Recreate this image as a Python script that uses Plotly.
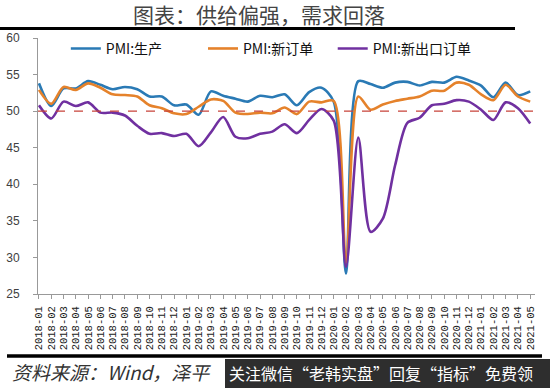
import plotly.graph_objects as go

months = [f"{y}-{m:02d}" for y in (2018, 2019, 2020) for m in range(1, 13)] + [f"2021-{m:02d}" for m in range(1, 6)]

pmi_production = [53.8, 50.7, 53.1, 53.1, 54.1, 53.6, 53.0, 53.3, 53.0, 52.0, 52.0, 50.8,
                  50.9, 49.5, 52.7, 52.1, 51.7, 51.3, 52.1, 51.9, 52.3, 50.8, 52.6, 53.2,
                  51.3, 27.8, 54.1, 53.7, 53.2, 53.9, 54.0, 53.5, 54.0, 53.9, 54.7, 54.2,
                  53.5, 51.9, 53.9, 52.2, 52.7]
pmi_new_orders = [52.9, 51.0, 53.3, 52.9, 53.8, 53.2, 52.3, 52.2, 52.0, 50.8, 50.4, 49.7,
                  49.6, 50.6, 51.6, 51.4, 49.8, 49.6, 49.8, 49.7, 50.5, 49.6, 51.3, 51.2,
                  51.4, 29.3, 52.0, 50.2, 50.9, 51.4, 51.7, 52.0, 52.8, 52.8, 53.9, 53.6,
                  52.3, 51.5, 53.6, 52.0, 51.3]
pmi_new_export = [50.8, 49.0, 51.3, 50.7, 51.2, 49.8, 49.8, 49.4, 48.0, 46.9, 47.0, 46.6,
                  46.9, 45.2, 47.1, 49.2, 46.5, 46.3, 46.9, 47.2, 48.2, 47.0, 48.8, 50.3,
                  48.7, 28.7, 46.4, 33.5, 35.3, 42.6, 48.4, 49.1, 50.8, 51.0, 51.5, 51.3,
                  50.2, 48.8, 51.2, 50.4, 48.3]
series_names = ["PMI:生产", "PMI:新订单", "PMI:新出口订单"]
reference_level = 50
y_ticks = [25, 30, 35, 40, 45, 50, 55, 60]

colors = ["#2a7ab5", "#e5822b", "#7030a0"]
legend_ids = ["legend", "legend2", "legend3"]
legend_x = [0.056, 0.332, 0.593]

fig = go.Figure()
for name, vals, c, lg in zip(series_names, [pmi_production, pmi_new_orders, pmi_new_export], colors, legend_ids):
    fig.add_trace(go.Scatter(x=months, y=vals, name=name, mode="lines", legend=lg,
                             line=dict(color=c, width=2.6, shape="spline", smoothing=0.8)))

fig.add_hline(y=reference_level, line=dict(color="#c8433a", width=1.4, dash="dash"))

legend_style = dict(orientation="h", xanchor="left", y=1.02, yanchor="top",
                    font=dict(family="Noto Sans CJK SC", size=14, color="#111"),
                    bgcolor="rgba(0,0,0,0)", itemwidth=30)

fig.update_layout(
    width=550, height=388, autosize=False,
    margin=dict(l=38, r=15, t=38, b=94),
    paper_bgcolor="white", plot_bgcolor="white",
    showlegend=True,
    legend=dict(x=legend_x[0], **legend_style),
    legend2=dict(x=legend_x[1], **legend_style),
    legend3=dict(x=legend_x[2], **legend_style),
    title=dict(text="图表：供给偏强，需求回落", x=259/550, xanchor="center", y=1-16/388, yanchor="middle",
               font=dict(family="Noto Sans CJK SC", size=21, color="#444")),
    xaxis=dict(type="category", range=[-0.08, 40.39], tickangle=-90, showgrid=False, zeroline=False,
               tickmode="array", tickvals=months, ticktext=months, automargin=False,
               showline=True, linecolor="#999", linewidth=1, ticks="outside", ticklen=4, tickcolor="#999",
               tickfont=dict(family="Liberation Mono", size=10.5, color="#222"), ticklabelstandoff=3),
    yaxis=dict(range=[25, 60], tickvals=y_ticks, showgrid=False, zeroline=False, automargin=False,
               showline=True, linecolor="#999", linewidth=1, ticks="outside", ticklen=4, tickcolor="#999",
               tickfont=dict(family="Liberation Sans", size=12, color="#404040"), ticklabelstandoff=11),
)

W = 497.0
H = 256.0
def px(x):
    return (x - 38) / W
def py(y):
    return (294 - y) / H

fig.add_shape(type="line", xref="paper", yref="paper", x0=px(0), x1=px(515), y0=py(28.5), y1=py(28.5),
              line=dict(color="black", width=3))
fig.add_shape(type="line", xref="paper", yref="paper", x0=px(7), x1=px(542), y0=py(356), y1=py(356),
              line=dict(color="black", width=3.5))
fig.add_annotation(xref="paper", yref="paper", x=px(10), y=py(371), xanchor="left", yanchor="middle",
                   text="<i>资料来源：Wind，泽平</i>", showarrow=False,
                   font=dict(family="Noto Sans CJK SC", size=19, color="#333"))
fig.add_shape(type="rect", xref="paper", yref="paper", x0=px(225), x1=px(552), y0=py(359), y1=py(390),
              fillcolor="#2e2e2e", line=dict(width=0), layer="above")
fig.add_annotation(xref="paper", yref="paper", x=px(227), y=py(373), xanchor="left", yanchor="middle",
                   text="关注微信“老韩实盘”回复“指标”免费领", showarrow=False,
                   font=dict(family="Noto Sans CJK SC", size=16, color="white"))

fig.write_html("out.html", config={"displayModeBar": False},
               post_script="document.body.style.margin='0';document.body.style.padding='0';")
